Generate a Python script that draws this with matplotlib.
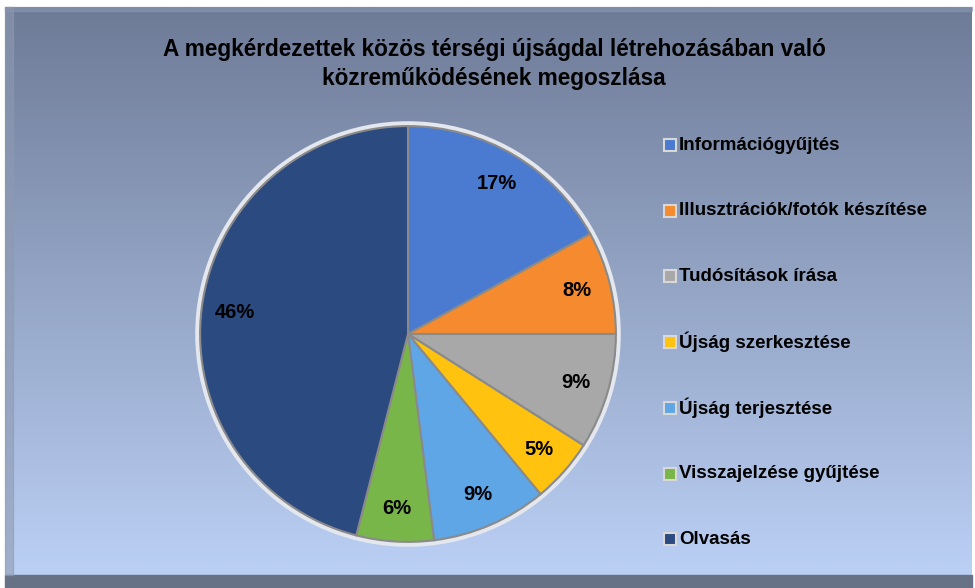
import numpy as np
import matplotlib
matplotlib.use("Agg")
import matplotlib.pyplot as plt
from matplotlib.patches import Rectangle, Circle

# data
categories = ["Információgyűjtés", "Illusztrációk/fotók készítése", "Tudósítások írása",
              "Újság szerkesztése", "Újság terjesztése", "Visszajelzése gyűjtése", "Olvasás"]
shares = [17, 8, 9, 5, 9, 6, 46]
colors = ["#4a7bd0", "#f58a2e", "#a8a8a8", "#ffc20e", "#5fa6e6", "#79b64a", "#2b4a80"]
title = "A megkérdezettek közös térségi újságdal létrehozásában való\nközreműködésének megoszlása"

plt.rcParams["font.family"] = ["Liberation Sans", "DejaVu Sans"]
plt.rcParams["font.weight"] = "bold"

W, H = 975, 588
fig = plt.figure(figsize=(W / 100, H / 100), dpi=100, facecolor="white")

# background panel with vertical gradient
bg = fig.add_axes([0, 0, 1, 1])
bg.set_xlim(0, W)
bg.set_ylim(H, 0)
bg.axis("off")
grad = np.linspace(0, 1, 256)[:, None]
top = np.array([0x6e, 0x7b, 0x97]) / 255
bot = np.array([0xbb, 0xd0, 0xf5]) / 255
img = top + (bot - top) * grad[:, :, None]
bg.imshow(img, extent=[5, 972, 575, 7], aspect="auto", zorder=0)
bg.add_patch(Rectangle((5, 575), 967, 13, color="#687286", zorder=1))
bg.add_patch(Rectangle((5, 7), 8, 568, color="#8e9ab2", alpha=0.6, zorder=1))
bg.add_patch(Rectangle((5, 7), 967, 4, color="#8a96ae", alpha=0.6, zorder=1))

fig.text(494 / W, 1 - 64 / H, title, ha="center", va="center", fontsize=16.3,
         fontweight="bold", linespacing=1.35, color="black")

# pie
cx, cy, r = 408, 334, 210
ax = fig.add_axes([(cx - r) / W, (H - cy - r) / H, 2 * r / W, 2 * r / H])
ax.add_patch(Circle((0, 0), 1.0, facecolor="none", edgecolor="#e4e8ee", lw=4,
                    zorder=0, clip_on=False))
wedges, texts, autotexts = ax.pie(
    shares, colors=colors, startangle=90, counterclock=False,
    autopct="%d%%", pctdistance=0.84, radius=0.99,
    wedgeprops=dict(edgecolor="#8a8a8a", linewidth=1.5),
    textprops=dict(fontsize=14.5, fontweight="bold", color="black"))
ax.set_xlim(-1.0, 1.0)
ax.set_ylim(-1.0, 1.0)
ax.set_aspect("equal")

# legend
ly0, ldy = 145, 65.7
for i, (lab, w) in enumerate(zip(categories, wedges)):
    y = ly0 + i * ldy
    bg.add_patch(Rectangle((664, y - 6), 12, 12, facecolor=w.get_facecolor(),
                           edgecolor="#d8d8d8", lw=1.5, zorder=3))
    bg.text(679, y, lab, va="center", ha="left", fontsize=13.5, fontweight="bold",
            color="black", zorder=3)

fig.savefig("out.png", dpi=100, facecolor="white")
